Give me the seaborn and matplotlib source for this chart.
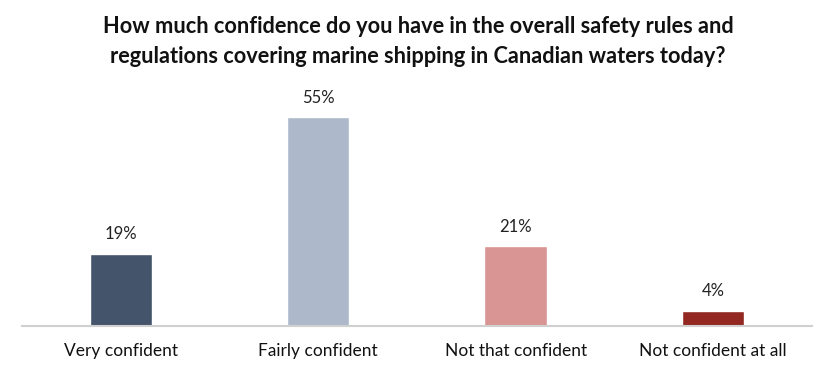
import matplotlib
matplotlib.use("Agg")
import matplotlib.pyplot as plt
import seaborn as sns
import pandas as pd

categories = ["Very confident", "Fairly confident", "Not that confident", "Not confident at all"]
values = [19, 55, 21, 4]
bar_colors = ["#44546a", "#adb9ca", "#d99594", "#922821"]
title = ("How much confidence do you have in the overall safety rules and\n"
         "regulations covering marine shipping in Canadian waters today?")

sns.set_theme(style="white")
plt.rcParams['font.family'] = ['Lato', 'DejaVu Sans']

df = pd.DataFrame({"answer": categories, "pct": values})

fig = plt.figure(figsize=(8.36, 3.77), dpi=100)
ax = fig.add_axes([0.0263, 0.1353, 0.9447, 0.605])

sns.barplot(data=df, x="answer", y="pct", hue="answer", palette=bar_colors,
            width=0.315, legend=False, ax=ax, saturation=1)

for i, v in enumerate(values):
    ax.text(i, v + 3, f"{v}%", ha="center", va="bottom", fontsize=12, color="#222222")

ax.set_ylim(0, 60)
ax.set_xlim(-0.5, 3.5)
ax.set_xlabel("")
ax.set_ylabel("")
ax.set_yticks([])
ax.tick_params(axis="x", length=0, labelsize=12.5, colors="#111111", pad=12)
for s in ["top", "right", "left"]:
    ax.spines[s].set_visible(False)
ax.spines["bottom"].set_color("#d0d0d0")
ax.spines["bottom"].set_linewidth(1.5)

fig.text(0.5, 0.958, title, ha="center", va="top", fontsize=15.7, fontweight="bold",
         color="#111111", linespacing=1.55)

fig.savefig("out.png", dpi=100)
